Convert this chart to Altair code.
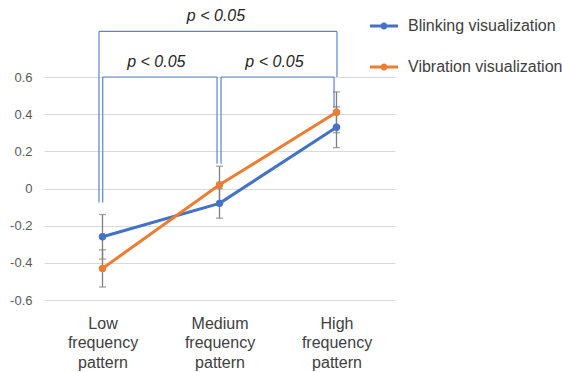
import json
import altair as alt
import pandas as pd

categories = ["Low frequency pattern", "Medium frequency pattern", "High frequency pattern"]
series = ["Blinking visualization", "Vibration visualization"]
blinking = [-0.26, -0.08, 0.33]
vibration = [-0.43, 0.02, 0.41]
blinking_err = [0.12, 0.08, 0.11]
vibration_err = [0.10, 0.10, 0.11]
colors = ["#4472C4", "#ED7D31"]
y_ticks = [-0.6, -0.4, -0.2, 0.0, 0.2, 0.4, 0.6]

# significance brackets (data units)
br_x = [0.97, 0.97, 3.004, 1.002, 1.002, 1.979, 2.013, 2.013, 2.979]
br_x2 = [3.004, 0.97, 3.004, 1.979, 1.002, 1.979, 2.979, 2.013, 2.979]
br_y = [0.845, 0.845, 0.845, 0.6, 0.6, 0.6, 0.6, 0.6, 0.6]
br_y2 = [0.845, -0.075, 0.6, 0.6, -0.075, 0.133, 0.6, 0.133, 0.432]
sig_text = ["p < 0.05", "p < 0.05", "p < 0.05"]
sig_x = [1.97, 1.46, 2.47]
sig_y = [0.93, 0.682, 0.682]

rows = []
for s, vals, errs in [(series[0], blinking, blinking_err), (series[1], vibration, vibration_err)]:
    for i, (v, e) in enumerate(zip(vals, errs)):
        rows.append({"x": i + 1, "cat": categories[i], "series": s, "v": v, "lo": v - e, "hi": v + e})
df = pd.DataFrame(rows)
br = pd.DataFrame({"x": br_x, "x2": br_x2, "y": br_y, "y2": br_y2})
sig = pd.DataFrame({"t": sig_text, "x": sig_x, "y": sig_y})

words = [c.split(" ") for c in categories]
label_expr = "datum.value == 1 ? %s : datum.value == 2 ? %s : %s" % (
    json.dumps(words[0]), json.dumps(words[1]), json.dumps(words[2]))

FONT = "Liberation Sans"
xs = alt.Scale(domain=[0.5, 3.5], nice=False, zero=False)
ys = alt.Scale(domain=[-0.6, 0.6], nice=False, zero=False)
cs = alt.Scale(domain=series, range=colors)

X = alt.X("x:Q", scale=xs, axis=alt.Axis(
    values=[1, 2, 3], tickCount=3, labelExpr=label_expr, title=None, grid=False, domain=False,
    ticks=False, labelFontSize=16, labelFont=FONT, labelColor="#404040",
    labelPadding=15, labelBaseline="top", labelLineHeight=19.5))
Y = alt.Y("lo:Q", scale=ys, axis=alt.Axis(
    values=y_ticks, tickCount=len(y_ticks), labelOverlap=False, title=None, domain=False,
    ticks=False, gridColor="#D9D9D9",
    labelFontSize=13, labelFont=FONT, labelColor="#595959", labelPadding=12,
    labelExpr="datum.value == 0 ? '0' : (datum.value < 0 ? '-' : '') + format(abs(datum.value), '.1f')"))

legend_path = ("M-1,-0.1L1,-0.1L1,0.1L-1,0.1Z "
               "M0.25,0A0.25,0.25,0,1,1,-0.25,0A0.25,0.25,0,1,1,0.25,0Z")
LEG = alt.Legend(
    title=None, orient="none", legendX=324, legendY=-67, symbolType=legend_path,
    symbolSize=784, symbolStrokeWidth=0, labelFontSize=16, labelFont=FONT,
    labelColor="#404040", labelOffset=10, labelLimit=0, rowPadding=19,
    padding=2, fillColor="white")

base = alt.Chart(df)
err_rule = base.mark_rule(color="#7F7F7F", strokeWidth=1.3).encode(
    x=X, y=Y, y2="hi:Q")
err_lo = base.mark_tick(color="#7F7F7F", orient="horizontal", size=7, thickness=1.3).encode(
    x=alt.X("x:Q", scale=xs), y=alt.Y("lo:Q", scale=ys))
err_hi = base.mark_tick(color="#7F7F7F", orient="horizontal", size=7, thickness=1.3).encode(
    x=alt.X("x:Q", scale=xs), y=alt.Y("hi:Q", scale=ys))

lines = base.mark_line(strokeWidth=3).encode(
    x=alt.X("x:Q", scale=xs), y=alt.Y("v:Q", scale=ys),
    color=alt.Color("series:N", scale=cs, legend=LEG), detail="series:N")
points = base.mark_point(filled=True, size=55, opacity=1).encode(
    x=alt.X("x:Q", scale=xs), y=alt.Y("v:Q", scale=ys),
    color=alt.Color("series:N", scale=cs, legend=LEG))

brackets = alt.Chart(br).mark_rule(color="#5B83CF", strokeWidth=1.2).encode(
    x=alt.X("x:Q", scale=xs), x2="x2:Q", y=alt.Y("y:Q", scale=ys), y2="y2:Q")
texts = alt.Chart(sig).mark_text(font=FONT, fontSize=16, fontStyle="italic", color="#262626").encode(
    x=alt.X("x:Q", scale=xs), y=alt.Y("y:Q", scale=ys), text="t:N")

chart = alt.layer(err_rule, err_lo, err_hi, lines, points, brackets, texts).properties(
    width=351, height=223,
    autosize=alt.AutoSizeParams(type="none"),
    padding={"left": 44, "top": 77, "right": 167, "bottom": 72},
).configure_view(stroke=None)

chart.save("out.html", embed_options={"renderer": "svg", "actions": False})
